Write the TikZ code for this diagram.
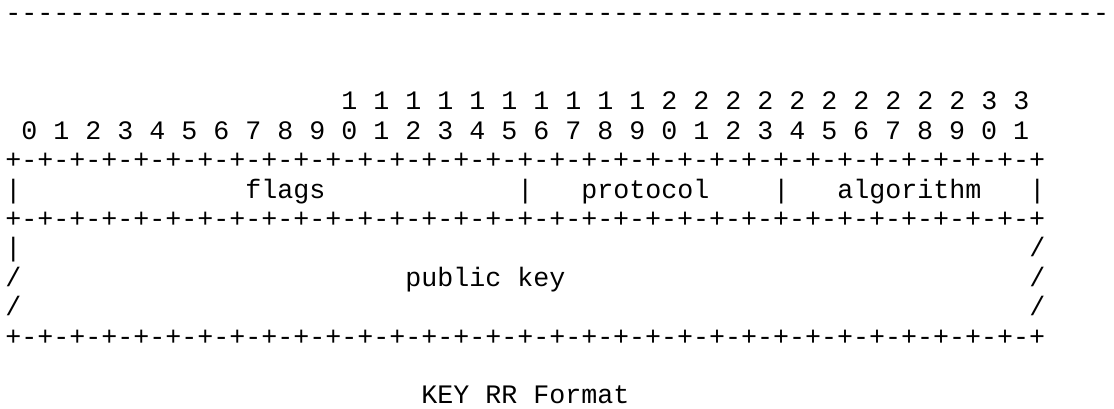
\documentclass[tikz,border=0pt]{standalone}
\usepackage{fontspec}
\setmonofont{Liberation Mono}
\usepackage{tikz}

% one row of the bit grid
\newcommand{\bitborder}{+%
-+-+-+-+-+-+-+-+%
-+-+-+-+-+-+-+-+%
-+-+-+-+-+-+-+-+%
-+-+-+-+-+-+-+-+}
% page rule above the figure
\newcommand{\pagerule}{%
----------%
----------%
----------%
----------%
----------%
----------%
---------}

\begin{document}
\begin{tikzpicture}[x=8pt, y=-14.7pt,
    cell/.style={inner sep=0pt, anchor=base west,
                 font=\ttfamily\fontsize{13.33pt}{14.7pt}\selectfont}]

    \useasboundingbox (0,0) rectangle (69.625,13.878);

    \begin{scope}[shift={(0.3125,0.74)}, every node/.style={cell}]

        % rule
        \node (rule) at (0,0) {\pagerule};

        % bit numbers
        \node (tens) at (21,3) {1 1 1 1 1 1 1 1 1 1 2 2 2 2 2 2 2 2 2 2 3 3};
        \node (units) at (1,4) {0 1 2 3 4 5 6 7 8 9 0 1 2 3 4 5 6 7 8 9 0 1 2 3 4 5 6 7 8 9 0 1};

        % first word
        \node (top) at (0,5) {\bitborder};
        \node (bar0) at (0,6) {|};
        \node (flags) at (15,6) {flags};
        \node (bar1) at (32,6) {|};
        \node (protocol) at (36,6) {protocol};
        \node (bar2) at (48,6) {|};
        \node (algorithm) at (52,6) {algorithm};
        \node (bar3) at (64,6) {|};
        \node (mid) at (0,7) {\bitborder};

        % public key field
        \node (pkl1) at (0,8) {|};
        \node (pkr1) at (64,8) {/};
        \node (pkl2) at (0,9) {/};
        \node (pubkey) at (25,9) {public key};
        \node (pkr2) at (64,9) {/};
        \node (pkl3) at (0,10) {/};
        \node (pkr3) at (64,10) {/};
        \node (bottom) at (0,11) {\bitborder};

        % caption
        \node (caption) at (26,13) {KEY RR Format};

    \end{scope}

\end{tikzpicture}
\end{document}
